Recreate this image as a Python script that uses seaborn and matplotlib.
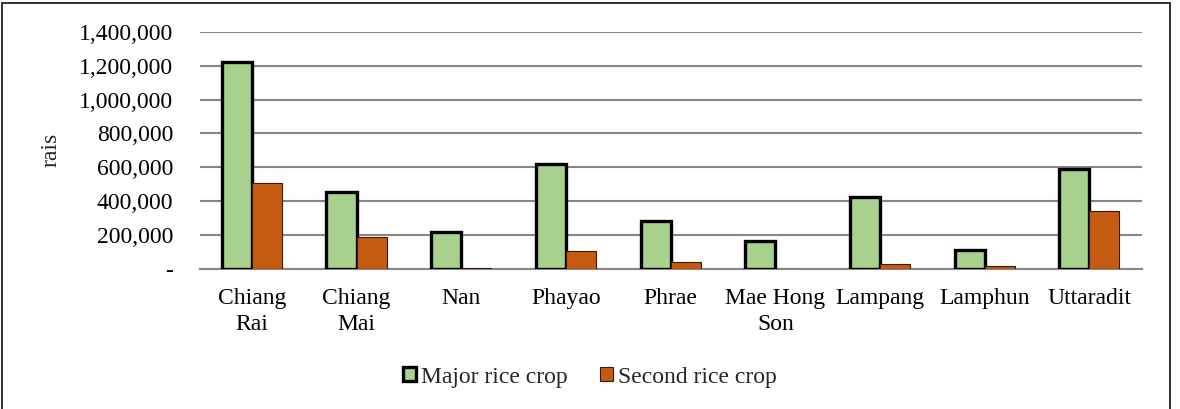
import matplotlib
matplotlib.use("Agg")
import matplotlib.pyplot as plt
from matplotlib.patches import Rectangle
from matplotlib.ticker import FuncFormatter
import seaborn as sns
import pandas as pd

# Rice planted area by province (rais)
provinces = ["Chiang\nRai", "Chiang\nMai", "Nan", "Phayao", "Phrae",
             "Mae Hong\nSon", "Lampang", "Lamphun", "Uttaradit"]
major_crop = [1222000, 453000, 219000, 617000, 281000, 166000, 423000, 113000, 587000]
second_crop = [508000, 186000, 4000, 103000, 37000, 500, 28000, 18000, 340000]
series_names = ["Major rice crop", "Second rice crop"]
y_ticks = [0, 200000, 400000, 600000, 800000, 1000000, 1200000, 1400000]

df = pd.DataFrame({
    "province": provinces * 2,
    "crop": [series_names[0]] * len(provinces) + [series_names[1]] * len(provinces),
    "area": major_crop + second_crop,
})

sns.set_theme(style="white")
plt.rcParams["font.family"] = ["Liberation Serif", "DejaVu Serif"]

fig = plt.figure(figsize=(11.8, 4.09), dpi=100)
ax = fig.add_axes([199.5 / 1180, 140.3 / 409, (1141.7 - 199.5) / 1180, (268.7 - 32) / 409])

sns.barplot(data=df, x="province", y="area", hue="crop", order=provinces,
            hue_order=series_names, palette=["#A9D18E", "#C55A11"], saturation=1,
            width=0.575, gap=0, legend=False, ax=ax, zorder=3)

# Outline styles per series
for bar in ax.containers[0]:
    bar.set_edgecolor("black")
    bar.set_linewidth(2.4)
for bar in ax.containers[1]:
    bar.set_edgecolor("#3a1a05")
    bar.set_linewidth(0.8)

ax.set_ylim(0, 1400000)
ax.set_xlim(-0.5, len(provinces) - 0.5)
ax.set_yticks(y_ticks)
ax.yaxis.set_major_formatter(FuncFormatter(lambda v, p: "-" if v == 0 else f"{int(v):,}"))
ax.grid(axis="y", color="#868686", linewidth=1.5, zorder=0)
ax.set_axisbelow(True)
for side in ["left", "right", "top"]:
    ax.spines[side].set_visible(False)
ax.spines["bottom"].set_color("#868686")
ax.spines["bottom"].set_linewidth(1.5)

ax.tick_params(axis="y", length=0, pad=19, labelsize=17, labelcolor="black")
ax.tick_params(axis="x", length=0, pad=14, labelsize=17, labelcolor="black")
ax.set_xticks(range(len(provinces)))
ax.set_xticklabels(provinces, linespacing=1.3)
ax.set_xlabel("")
ax.set_ylabel("")
fig.text(51 / 1180, 1 - 150 / 409, "rais", rotation=90, ha="center", va="center",
         fontsize=17)

handles = [ax.containers[0][0], ax.containers[1][0]]
fig.legend(handles, series_names, loc="center", bbox_to_anchor=(590 / 1180, 1 - 377 / 409),
           ncol=2, frameon=False, fontsize=17, handlelength=0.55, handleheight=0.55,
           handletextpad=0.2, columnspacing=1.4)

# Chart border
fig.patches.append(Rectangle((2 / 1180, -0.02), (1170 - 2) / 1180, 1.02 - 2.5 / 409,
                             transform=fig.transFigure, fill=False,
                             edgecolor="#222222", linewidth=1.3))

fig.savefig("out.png", dpi=100)
